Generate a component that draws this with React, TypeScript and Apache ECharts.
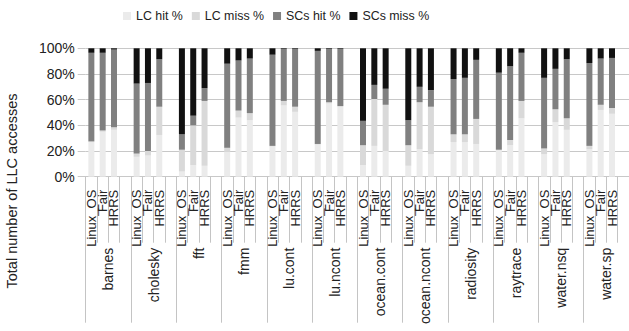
import React, { useEffect, useRef } from "react";
import * as echarts from "echarts";

const groups = ["barnes", "cholesky", "fft", "fmm", "lu.cont", "lu.ncont", "ocean.cont", "ocean.ncont", "radiosity", "raytrace", "water.nsq", "water.sp"];
const schedulers = ["Linux_OS", "Fair", "HRRS"];
const seriesNames = ["LC hit %", "LC miss %", "SCs hit %", "SCs miss %"];
const yTicks = [0, 20, 40, 60, 80, 100];

const lcHit = [27, 35, 36.5, 15.5, 16.5, 32.5, 4, 9, 8.5, 19.5, 46, 44, 23.5, 55.5, 50.5, 25, 57, 54.5, 9, 24, 20, 8.5, 21.5, 17.5, 27, 27, 25.5, 20.5, 24.5, 45.5, 17.5, 42.5, 36.5, 21.5, 52, 49];
const lcMiss = [0.5, 1, 2, 2.5, 3.5, 22, 17, 31, 50.5, 3, 5.5, 5.5, 0.5, 3.5, 4, 0.5, 1, 0.5, 15.5, 36.5, 36, 16, 36.5, 37, 6, 6, 19.5, 0.5, 4, 13.5, 4.5, 10, 9, 2.5, 4, 4.5];
const scHit = [69, 60.5, 60.5, 54.5, 53, 37, 12, 7.5, 10, 65.5, 39, 42.5, 71, 40.5, 45, 72.5, 41.5, 44.5, 19, 11, 12.5, 19.5, 12, 13, 43, 44, 46, 60, 57.5, 37.5, 55, 31.5, 46, 64.5, 36, 39];
const scMiss = [3.5, 3.5, 1, 27.5, 27, 8.5, 67, 52.5, 31, 12, 9.5, 8, 5, 0.5, 0.5, 2, 0.5, 0.5, 56.5, 28.5, 31.5, 56, 30, 32.5, 24, 23, 9, 19, 14, 3.5, 23, 16, 8.5, 11.5, 8, 7.5];

const colors = ["#ebebeb", "#d9d9d9", "#808080", "#111111"];

function withGaps(vals: number[]) {
  const out: (number | null)[] = [];
  groups.forEach((_, g) => {
    for (let s = 0; s < schedulers.length; s++) out.push(vals[g * 3 + s]);
    out.push(null);
  });
  return out;
}

const slotLabels: string[] = [];
groups.forEach(() => {
  schedulers.forEach((s) => slotLabels.push(s));
  slotLabels.push("");
});

const FONT = "Liberation Sans";

export default function App() {
  const ref = useRef<HTMLDivElement>(null);
  useEffect(() => {
    const chart = echarts.init(ref.current!, undefined, { renderer: "svg" });
    const all = [lcHit, lcMiss, scHit, scMiss];
    chart.setOption({
      animation: false,
      textStyle: { fontFamily: FONT },
      legend: {
        left: 118,
        top: 5,
        itemWidth: 8,
        itemHeight: 8,
        itemGap: 9,
        icon: "rect",
        textStyle: { fontSize: 12.4, color: "#222", fontFamily: FONT },
        data: seriesNames,
      },
      grid: { left: 85.7, top: 48.3, width: 560, height: 128.4, containLabel: false },
      xAxis: [
        {
          type: "category",
          data: slotLabels,
          position: "bottom",
          axisLine: { show: true, lineStyle: { color: "#c8c8c8", width: 1 } },
          axisTick: { show: true, length: 66, lineStyle: { color: "#c4c4c4" } },
          axisLabel: { interval: 0, rotate: 90, fontSize: 13, margin: 13, color: "#222", fontFamily: FONT },
        },
        {
          type: "category",
          data: groups,
          position: "bottom",
          gridIndex: 0,
          axisLine: { show: false },
          axisTick: { show: true, length: 146, lineStyle: { color: "#c4c4c4" } },
          axisLabel: { interval: 0, rotate: 90, fontSize: 14, margin: 71, color: "#222", fontFamily: FONT },
        },
      ],
      yAxis: {
        type: "value",
        min: yTicks[0],
        max: yTicks[yTicks.length - 1],
        interval: 20,
        axisLine: { show: false },
        axisTick: { show: true, length: 8, lineStyle: { color: "#c8c8c8" } },
        splitLine: { lineStyle: { color: "#c8c8c8", width: 1 } },
        axisLabel: { formatter: "{value}%", fontSize: 14, margin: 11, color: "#222", fontFamily: FONT },
      },
      graphic: [
        {
          type: "text",
          x: 12,
          y: 191,
          rotation: Math.PI / 2,
          style: {
            text: "Total number of LLC accesses",
            fontSize: 14.5,
            fontFamily: FONT,
            fill: "#222",
            align: "center",
            verticalAlign: "middle",
          },
        },
      ],
      series: seriesNames.map((name, i) => ({
        name,
        type: "bar",
        stack: "total",
        xAxisIndex: 0,
        barWidth: 6,
        itemStyle: { color: colors[i] },
        data: withGaps(all[i]),
      })),
    });
    return () => chart.dispose();
  }, []);
  return (
    <div style={{ position: "absolute", left: 0, top: 0, width: 629, height: 331, overflow: "hidden" }}>
      <div ref={ref} style={{ width: 629, height: 331 }} />
    </div>
  );
}
